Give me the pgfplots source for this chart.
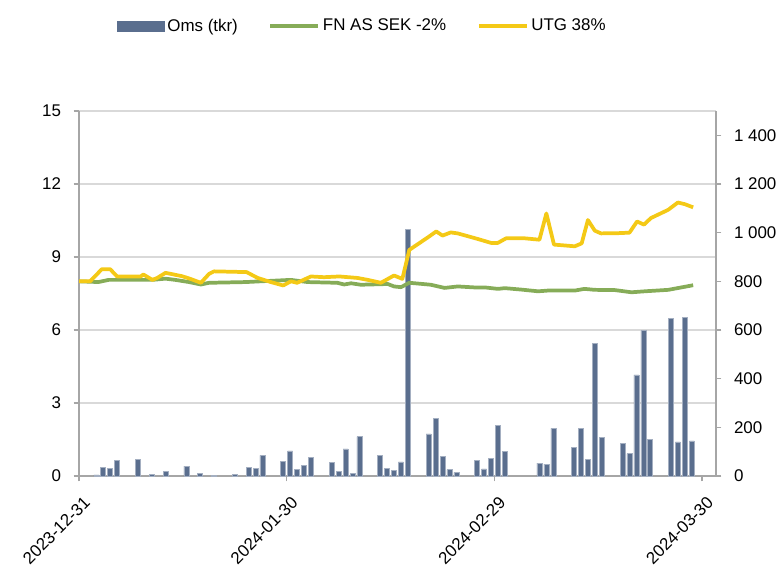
\documentclass[border=0pt]{standalone}
\usepackage{fontspec}
\setmainfont{Liberation Sans}
\usepackage{pgfplots}
\pgfplotsset{compat=1.18}

\definecolor{barc}{HTML}{5A6E8E}
\definecolor{fnc}{HTML}{86AC58}
\definecolor{utgc}{HTML}{F4C916}
\definecolor{gridc}{HTML}{D9D9D9}
\definecolor{axc}{HTML}{A6A6A6}

\pgfplotsset{
  every axis/.append style={
    font=\fontsize{12.7}{15}\selectfont,
    /pgf/number format/assume math mode=true,
    at={(0pt,0pt)}, anchor=south west,
    scale only axis, width=477.75pt, height=273.75pt,
    xmin=0, xmax=92,
    axis line style={draw=axc, line width=1pt},
    tick style={draw=axc, line width=1pt},
    tick align=outside, major tick length=4pt,
  },
  linelegend/.style={legend image code/.code={\draw[##1] (0pt,0pt) -- (36pt,0pt);}},
  barlegend/.style={legend image code/.code={\fill[barc] (0pt,-3.75pt) rectangle (35pt,3.75pt);}},
}

\begin{document}
\begin{tikzpicture}
\useasboundingbox (-59.25pt,-68.25pt) rectangle (525.75pt,357pt);

% vänster axel: omsättning
\begin{axis}[
  ymin=0, ymax=15, ytick={0,3,...,15},
  axis x line*=bottom, axis y line*=left,
  ymajorgrids, grid style={draw=gridc, line width=1pt},
  xtick={0,30,60,90},
  xticklabels={2023-12-31,2024-01-30,2024-02-29,2024-03-30},
  x tick label style={rotate=45, anchor=north east, yshift=-6pt, xshift=-2pt},
  y tick label style={xshift=-6pt},
]
\addplot[ybar, bar width=0.72, fill=barc, draw=barc!55!white, line width=0.4pt]
coordinates {
 (2.5,0.05) (3.5,0.34) (4.5,0.30) (5.5,0.64) (8.5,0.67) (10.5,0.08)
 (12.5,0.19) (15.5,0.41) (17.5,0.12) (19.5,0.03) (22.5,0.08) (24.5,0.34)
 (25.5,0.30) (26.5,0.85) (29.5,0.60) (30.5,1.03) (31.5,0.28) (32.5,0.45)
 (33.5,0.78) (36.5,0.56) (37.5,0.18) (38.5,1.11) (39.5,0.11) (40.5,1.62)
 (43.5,0.85) (44.5,0.32) (45.5,0.23) (46.5,0.58) (47.5,10.15) (50.5,1.73)
 (51.5,2.37) (52.5,0.81) (53.5,0.26) (54.5,0.15) (57.5,0.64) (58.5,0.29)
 (59.5,0.73) (60.5,2.08) (61.5,1.01) (66.5,0.53) (67.5,0.49) (68.5,1.96)
 (71.5,1.18) (72.5,1.97) (73.5,0.67) (74.5,5.45) (75.5,1.60) (78.5,1.34)
 (79.5,0.92) (80.5,4.16) (81.5,5.97) (82.5,1.52) (85.5,6.48) (86.5,1.40)
 (87.5,6.51) (88.5,1.44)
};
\end{axis}

% höger axel: kurser
\begin{axis}[
  ymin=0, ymax=1500, ytick={0,200,...,1400},
  axis y line*=right, axis x line=none,
  y tick label style={xshift=6pt, anchor=west,
    /pgf/number format/1000 sep={\ }},
  legend columns=3,
  legend style={draw=none, fill=none, at={(0.06,1.233)}, anchor=west,
    inner xsep=0pt,
    /tikz/every even column/.append style={column sep=21pt}},
]
\addlegendimage{barlegend}
\addlegendentry{Oms (tkr)}
\addplot[fnc, line width=2.8pt, line join=round, linelegend]
coordinates {
 (0,800) (2.8,797) (4.3,806) (10.6,806) (12.5,811) (13.9,806) (15.9,797)
 (17.6,787) (18.8,794) (24.1,797) (26.2,800) (30.6,806) (33.0,797)
 (37.3,794) (38.3,787) (39.3,792) (40.7,786) (44.6,789) (45.5,779)
 (46.5,776) (47.7,794) (48.9,791) (50.8,786) (52.8,773) (54.7,779)
 (57.1,775) (58.6,775) (60.5,769) (61.5,772) (63.9,766) (66.3,759)
 (67.7,762) (71.6,762) (73.0,769) (74.5,765) (77.4,764) (79.8,755)
 (81.7,759) (85.1,765) (87.0,775) (88.7,784)
};
\addlegendentry{FN AS SEK -2\%}
\addplot[utgc, line width=2.8pt, line join=round, linelegend]
coordinates {
 (0,800) (1.6,800) (3.3,850) (4.5,850) (5.5,820) (8.9,820) (9.3,828)
 (10.6,806) (11.3,814) (12.5,835) (14.9,821) (16.1,810) (17.6,794)
 (18.8,831) (19.5,841) (24.2,838) (25.8,814) (27.7,797) (29.5,783)
 (30.6,800) (31.5,794) (33.5,820) (35.4,817) (37.6,820) (40.2,814)
 (41.7,806) (43.6,794) (45.5,824) (46.7,810) (47.7,929) (50.4,981)
 (51.6,1005) (52.5,988) (53.7,1001) (54.7,997) (57.6,974) (59.5,958)
 (60.5,958) (61.7,977) (64.3,977) (66.5,971) (67.5,1079) (68.6,951)
 (71.6,944) (72.6,956) (73.5,1052) (74.5,1008) (75.4,997) (77.9,998)
 (79.5,1000) (80.6,1046) (81.6,1033) (82.6,1060) (85.1,1094) (86.5,1124)
 (87.5,1117) (88.7,1104)
};
\addlegendentry{UTG 38\%}
\end{axis}
\end{tikzpicture}
\end{document}
